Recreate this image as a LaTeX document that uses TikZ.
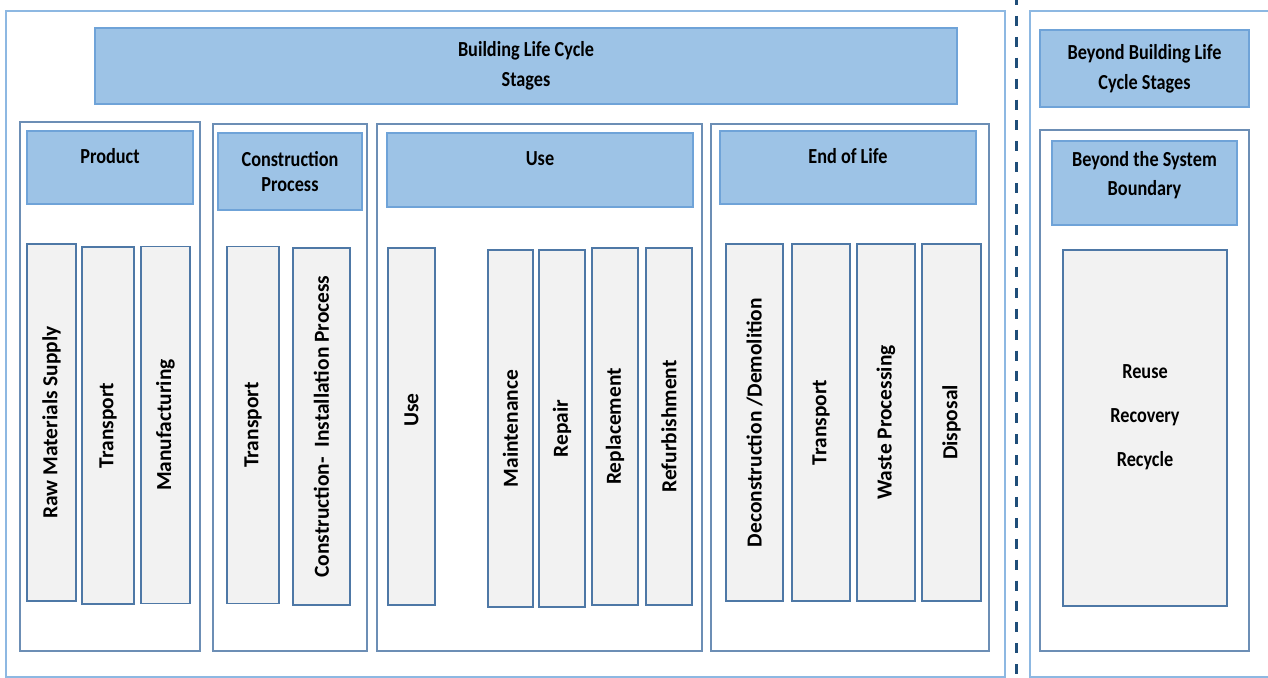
\documentclass[tikz,border=0pt]{standalone}
\usepackage{fontspec}
\setmainfont{Carlito}
\newfontfamily\hdfont[FakeStretch=0.85]{Carlito}
\usetikzlibrary{positioning}

\definecolor{hdblue}{HTML}{9DC3E6}
\definecolor{hdedge}{HTML}{6FA3D8}
\definecolor{outeredge}{HTML}{8DB8E2}
\definecolor{frameedge}{HTML}{6C8EB5}
\definecolor{baredge}{HTML}{4E78A6}
\definecolor{barfill}{HTML}{F2F2F2}
\definecolor{cutblue}{HTML}{1F4E79}

\begin{document}
\begin{tikzpicture}
\tikzstyle{outer} = [rectangle, draw=outeredge, line width=0.9pt]
\tikzstyle{frame} = [rectangle, draw=frameedge, line width=0.9pt]
\tikzstyle{header} = [rectangle, draw=hdedge, fill=hdblue, line width=0.9pt,
    align=center, font=\hdfont\bfseries\fontsize{12.2}{17}\selectfont]
\tikzstyle{textup} = [text depth=0.45cm]
\tikzstyle{bar} = [rectangle, draw=baredge, fill=barfill, line width=1pt,
    rotate=90, minimum width=7.14cm, font=\bfseries\fontsize{12.2}{15}\selectfont]
\tikzstyle{cut} = [draw=cutblue, line width=1.7pt, dash pattern=on 5.7pt off 6.2pt]

\useasboundingbox (0,0) rectangle (25.36,-13.56);
\clip (0,0) rectangle (25.36,-13.56);

% outer frames
\node [outer, minimum width=19.98cm, minimum height=13.32cm] (lcs) at (10.11,-6.88) {};
\node [outer, minimum width=4.9cm, minimum height=13.32cm] (blcs) at (23.05,-6.88) {};

\coordinate (cuttop) at (20.32,0.1);
\coordinate (cutbot) at (20.32,-13.7);
\path [cut] (cuttop) -- (cutbot);

% headers
\node [header, minimum width=17.24cm, minimum height=1.52cm] (stages) at (10.52,-1.32) {Building Life Cycle\\Stages};
\node [header, minimum width=4.18cm, minimum height=1.54cm] (beyond) at (22.89,-1.37) {Beyond Building Life\\Cycle Stages};

% stage frames
\node [frame, minimum width=3.6cm, minimum height=10.58cm] (product) at (2.2,-7.73) {};
\node [frame, minimum width=3.08cm, minimum height=10.54cm] (constr) at (5.8,-7.75) {};
\node [frame, minimum width=6.5cm, minimum height=10.54cm] (use) at (10.79,-7.75) {};
\node [frame, minimum width=5.56cm, minimum height=10.54cm] (eol) at (17.0,-7.75) {};
\node [frame, minimum width=4.18cm, minimum height=10.42cm] (system) at (22.89,-7.81) {};

\node [header, textup, minimum width=3.32cm, minimum height=1.46cm] (producthd) at (2.2,-3.35) {Product};
\node [header, minimum width=2.88cm, minimum height=1.54cm, font=\hdfont\bfseries\fontsize{12.2}{14.7}\selectfont] (constrhd) at (5.8,-3.43) {Construction\\Process};
\node [header, textup, minimum width=6.12cm, minimum height=1.48cm] (usehd) at (10.8,-3.4) {Use};
\node [header, textup, minimum width=5.12cm, minimum height=1.46cm] (eolhd) at (16.96,-3.35) {End of Life};
\node [header, text depth=0.37cm, minimum width=3.7cm, minimum height=1.68cm, font=\hdfont\bfseries\fontsize{12.2}{16.4}\selectfont] (systemhd) at (22.89,-3.66) {Beyond the System\\Boundary};

% modules
\node [bar, minimum height=0.98cm] (rawmat) at (1.03,-8.45) {Raw Materials Supply};
\node [bar, minimum height=1.04cm] (transa) at (2.16,-8.51) {Transport};
\node [bar, minimum height=0.98cm] (manuf) at (3.31,-8.5) {Manufacturing};

\node [bar, minimum height=1.04cm] (transb) at (5.06,-8.5) {Transport};
\node [bar, minimum height=1.14cm] (install) at (6.43,-8.53) {Construction-\ \ Installation Process};

\node [bar, minimum height=0.94cm] (usemod) at (8.23,-8.53) {\hspace*{0.66cm}Use};
\node [bar, minimum height=0.9cm] (maint) at (10.21,-8.57) {Maintenance};
\node [bar, minimum height=0.92cm] (repair) at (11.24,-8.57) {Repair};
\node [bar, minimum height=0.92cm] (replace) at (12.3,-8.53) {Replacement};
\node [bar, minimum height=0.92cm] (refurb) at (13.38,-8.53) {Refurbishment};

\node [bar, minimum height=1.14cm] (demol) at (15.09,-8.45) {Deconstruction /Demolition};
\node [bar, minimum height=1.16cm] (transc) at (16.42,-8.45) {Transport};
\node [bar, minimum height=1.16cm] (waste) at (17.72,-8.45) {Waste Processing};
\node [bar, minimum height=1.18cm] (disposal) at (19.03,-8.45) {Disposal};

\node [rectangle, draw=baredge, fill=barfill, line width=1pt, align=center,
    text depth=0.5cm, minimum width=3.28cm, minimum height=7.12cm,
    font=\hdfont\bfseries\fontsize{12.2}{15}\selectfont] (reuse) at (22.9,-8.56)
    {Reuse\\[10pt]Recovery\\[10pt]Recycle};

\end{tikzpicture}
\end{document}
